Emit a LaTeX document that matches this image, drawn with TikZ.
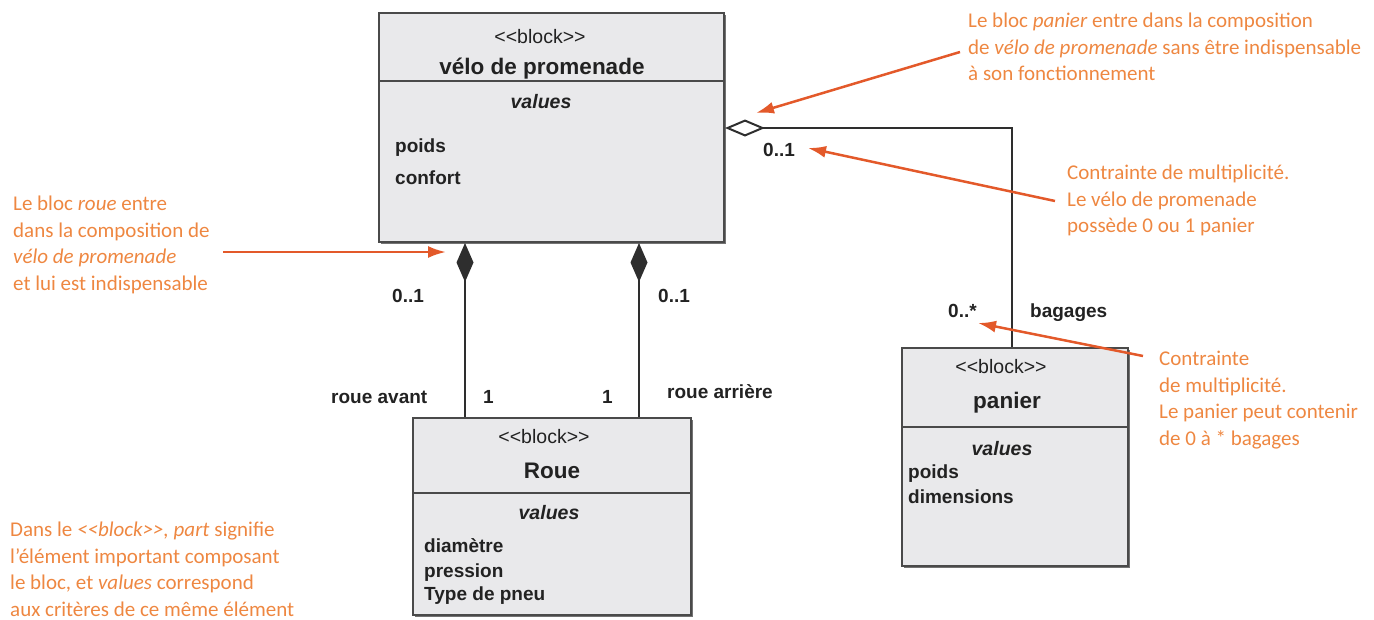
\documentclass[tikz,border=0pt]{standalone}
\usepackage{fontspec}
\usepackage{tikz}
\usetikzlibrary{arrows.meta,positioning,shadows}

\newfontfamily\umlfont{Liberation Sans}
\newfontfamily\notefont{Carlito}

\definecolor{boxfill}{HTML}{E9E9EB}
\definecolor{boxline}{HTML}{4A4A4A}
\definecolor{linkc}{HTML}{2E2E2E}
\definecolor{umltext}{HTML}{222222}
\definecolor{notetext}{HTML}{EE8741}
\definecolor{notearrowc}{HTML}{E3592A}

\tikzset{
  block/.style={draw=boxline, fill=boxfill, line width=2pt, inner sep=0pt, anchor=north west,
    drop shadow={shadow xshift=2pt, shadow yshift=-2pt, fill=black!55, opacity=1}},
  divider/.style={draw=boxline, line width=2pt},
  stereo/.style={font=\umlfont\fontsize{19.5}{22}\selectfont, text=umltext, anchor=base, inner sep=0pt},
  blockname/.style={font=\umlfont\bfseries\fontsize{22.5}{26}\selectfont, text=umltext, anchor=base, inner sep=0pt},
  valhead/.style={font=\umlfont\bfseries\itshape\fontsize{19.5}{22}\selectfont, text=umltext, anchor=base, inner sep=0pt},
  attr/.style={font=\umlfont\bfseries\fontsize{19}{22}\selectfont, text=umltext, anchor=base west, inner sep=0pt},
  note/.style={font=\notefont\fontsize{21}{26.5}\selectfont, text=notetext, align=left, anchor=north west, inner sep=0pt},
  notearrow/.style={draw=notearrowc, line width=2.5pt, -{Latex[length=18pt,width=12pt]}},
  compo/.style={draw=linkc, line width=2pt, {Diamond[length=39pt,width=17pt,fill=linkc]}-},
  aggr/.style={draw=linkc, line width=2pt, {Diamond[open,length=40pt,width=17pt]}-}
}

\begin{document}
\begin{tikzpicture}[x=1pt,y=-1pt]
  \useasboundingbox (0,0) rectangle (1374,619);

  % blocks
  \node[block, minimum width=345pt, minimum height=229pt] (velo) at (378,12) {};
  \node[block, minimum width=278pt, minimum height=197pt] (roue) at (412,417) {};
  \node[block, minimum width=226pt, minimum height=218pt] (panier) at (901,347) {};

  \draw[divider] (velo.west |- 0,81) -- (velo.east |- 0,81);
  \draw[divider] (roue.west |- 0,493) -- (roue.east |- 0,493);
  \draw[divider] (panier.west |- 0,427) -- (panier.east |- 0,427);

  % velo de promenade
  \node[stereo] (veloStereo) at (540,43) {<<block>>};
  \node[blockname] (veloName) at (542,74) {vélo de promenade};
  \node[valhead] (veloValues) at (541,108) {values};
  \node[attr] (veloPoids) at (395,152) {poids};
  \node[attr] (veloConfort) at (395,184) {confort};

  % roue
  \node[stereo] (roueStereo) at (544,443) {<<block>>};
  \node[blockname] (roueName) at (552,478) {Roue};
  \node[valhead] (roueValues) at (549,519) {values};
  \node[attr] (roueDiam) at (424,552) {diamètre};
  \node[attr] (rouePress) at (424,577) {pression};
  \node[attr] (roueType) at (424,600) {Type de pneu};

  % panier
  \node[stereo] (panierStereo) at (1001,373) {<<block>>};
  \node[blockname] (panierName) at (1007,408) {panier};
  \node[valhead] (panierValues) at (1002,455) {values};
  \node[attr] (panierPoids) at (908,478) {poids};
  \node[attr] (panierDim) at (908,503) {dimensions};

  % liens
  \coordinate (avant) at (465,0);
  \coordinate (arriere) at (639,0);
  \coordinate (bag) at (1012,0);
  \coordinate (aggrY) at (0,128);
  \draw[compo] (velo.south -| avant) -- (roue.north -| avant);
  \draw[compo] (velo.south -| arriere) -- (roue.north -| arriere);
  \draw[aggr] (velo.east |- aggrY) -| (panier.north -| bag);

  \node[attr] (multAvant) at (392,302) {0..1};
  \node[attr] (multArriere) at (658,302) {0..1};
  \node[attr] (roleAvant) at (331,403) {roue avant};
  \node[attr] (unAvant) at (483,403) {1};
  \node[attr] (unArriere) at (602,403) {1};
  \node[attr] (roleArriere) at (667,398) {roue arrière};
  \node[attr] (multPanier) at (763,156) {0..1};
  \node[attr] (multBag) at (948,317) {0..*};
  \node[attr] (roleBag) at (1030,317) {bagages};

  % annotations
  \node[note] (notePanier) at (968,13) {Le bloc \textit{panier} entre dans la composition\\
    de \textit{vélo de promenade} sans être indispensable\\
    à son fonctionnement};
  \node[note] (noteMultVelo) at (1067,165) {Contrainte de multiplicité.\\
    Le vélo de promenade\\
    possède 0 ou 1 panier};
  \node[note] (noteMultBag) at (1159,351) {Contrainte\\
    de multiplicité.\\
    Le panier peut contenir\\
    de 0 à * bagages};
  \node[note] (noteRoue) at (13,196) {Le bloc \textit{roue} entre\\
    dans la composition de\\
    \textit{vélo de promenade}\\
    et lui est indispensable};
  \node[note] (noteBlock) at (10,522) {Dans le \textit{<<block>>, part} signifie\\
    l’élément important composant\\
    le bloc, et \textit{values} correspond\\
    aux critères de ce même élément};

  \coordinate (pTail) at (960,52);
  \coordinate (pTip) at (756,113);
  \coordinate (mvTail) at (1055,201);
  \coordinate (mvTip) at (808,148);
  \coordinate (mbTail) at (1143,356);
  \coordinate (mbTip) at (978,323);
  \coordinate (rTail) at (223,252);
  \coordinate (rTip) at (446,252);
  \draw[notearrow] (pTail) -- (pTip);
  \draw[notearrow] (mvTail) -- (mvTip);
  \draw[notearrow] (mbTail) -- (mbTip);
  \draw[notearrow] (rTail) -- (rTip);
\end{tikzpicture}
\end{document}
